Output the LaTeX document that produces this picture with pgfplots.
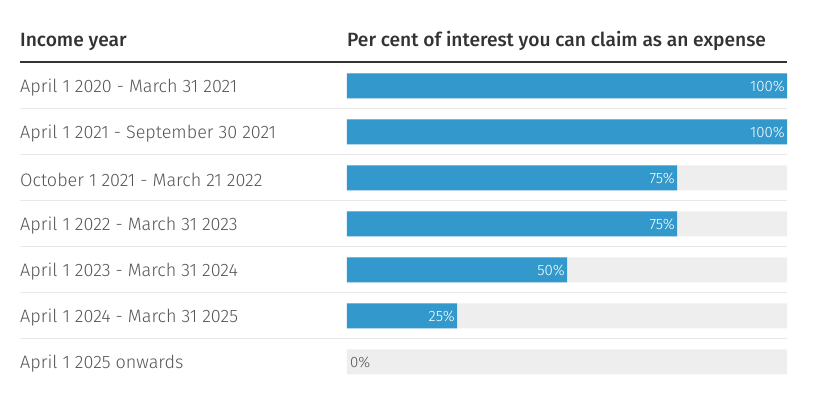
\documentclass[border=0pt]{standalone}
\usepackage{pgfplots}
\pgfplotsset{compat=1.18}
\usepackage{fontspec}
\setmainfont{Fira Sans}[UprightFont=* Light, BoldFont=* Medium]

\definecolor{barblue}{HTML}{3399CC}
\definecolor{track}{HTML}{EEEEEE}
\definecolor{sep}{HTML}{E8E8E8}
\definecolor{head}{HTML}{333333}
\definecolor{lbl}{HTML}{555555}

\newcommand{\rowfont}{\fontsize{18}{21}\selectfont}
\newcommand{\headfont}{\fontsize{19.2}{22}\selectfont\bfseries}
\newcommand{\pctfont}{\fontsize{15}{18}\selectfont}

\begin{document}
\begin{tikzpicture}
\begin{axis}[
    scale only axis,
    width=440pt, height=322pt,
    xmin=0, xmax=100,
    ymin=-0.5, ymax=6.5,
    y dir=reverse,
    clip=false,
    axis line style={draw=none},
    xtick=\empty,
    ytick={0,...,6},
    yticklabels={April 1 2020 - March 31 2021, April 1 2021 - September 30 2021,
        October 1 2021 - March 21 2022, April 1 2022 - March 31 2023,
        April 1 2023 - March 31 2024, April 1 2024 - March 31 2025,
        April 1 2025 onwards},
    major tick length=0pt,
    yticklabel style={anchor=west, inner xsep=0pt, xshift=-327pt, yshift=-2pt, text=lbl, font=\rowfont},
    xbar, bar width=25pt, bar shift=0pt,
    point meta=x,
    /pgf/number format/assume math mode=true,
    nodes near coords={\pgfmathprintnumber{\pgfplotspointmeta}\%},
]
% grey tracks
\addplot[fill=track, draw=none, forget plot, nodes near coords={}] coordinates {
    (100,0) (100,1) (100,2) (100,3) (100,4) (100,5) (100,6)};
% claimable share
\addplot[fill=barblue, draw=none,
    nodes near coords style={anchor=east, inner xsep=2pt, text=white, font=\pctfont}]
    coordinates {(100,0) (100,1) (75,2) (75,3) (50,4) (25,5)};
\addplot[fill=none, draw=none,
    nodes near coords style={anchor=west, inner xsep=3pt, text=lbl, font=\pctfont}]
    coordinates {(0,6)};

% rules
\draw[head, line width=2.5pt] (axis cs:-74.32,-0.5217) -- (axis cs:100,-0.5217);
\draw[sep, line width=1pt] (axis cs:-74.32,0.5) -- (axis cs:100,0.5);
\draw[sep, line width=1pt] (axis cs:-74.32,1.5) -- (axis cs:100,1.5);
\draw[sep, line width=1pt] (axis cs:-74.32,2.5) -- (axis cs:100,2.5);
\draw[sep, line width=1pt] (axis cs:-74.32,3.5) -- (axis cs:100,3.5);
\draw[sep, line width=1pt] (axis cs:-74.32,4.5) -- (axis cs:100,4.5);
\draw[sep, line width=1pt] (axis cs:-74.32,5.5) -- (axis cs:100,5.5);

% header
\node[anchor=base west, inner sep=0pt, text=head, font=\headfont] at (axis cs:-74.32,-0.848) {Income year};
\node[anchor=base west, inner sep=0pt, text=head, font=\headfont] at (axis cs:0,-0.848) {Per cent of interest you can claim as an expense};

\coordinate (bbA) at (axis cs:-78.864,-1.8696);
\coordinate (bbB) at (axis cs:105.909,6.8696);
\end{axis}
\pgfresetboundingbox
\path[use as bounding box] (bbA) rectangle (bbB);
\end{tikzpicture}
\end{document}
